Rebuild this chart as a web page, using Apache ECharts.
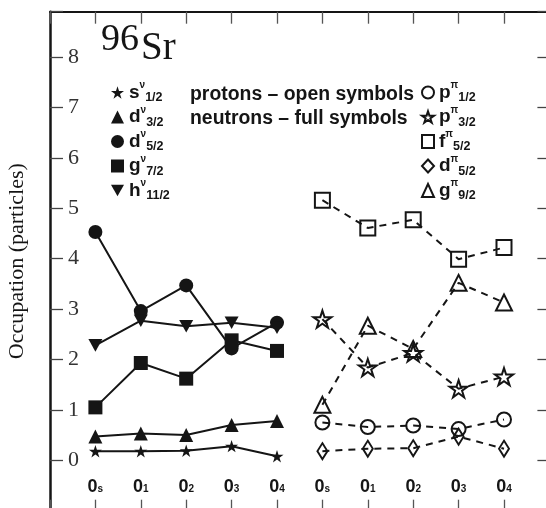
<!DOCTYPE html>
<html>
<head>
<meta charset="utf-8">
<script src="https://cdn.jsdelivr.net/npm/echarts@6/dist/echarts.min.js"></script>
<style>
html,body{margin:0;padding:0;background:#fff;}
#chart{width:546px;height:508px;}
</style>
</head>
<body>
<div id="chart"></div>
<script>
// ---------- data ----------
const xTickSubs = ['s', '1', '2', '3', '4', 's', '1', '2', '3', '4'];
const yTickValues = [0, 1, 2, 3, 4, 5, 6, 7, 8];

// neutrons (full symbols, solid lines) at positions 0..4
const neutronS12  = [0.18, 0.18, 0.19, 0.28, 0.08];
const neutronD32  = [0.47, 0.53, 0.50, 0.70, 0.78];
const neutronD52  = [4.53, 2.96, 3.47, 2.22, 2.73];
const neutronG72  = [1.05, 1.93, 1.62, 2.38, 2.17];
const neutronH112 = [2.28, 2.77, 2.66, 2.73, 2.63];

// protons (open symbols, dashed lines) at positions 5..9
const protonP12 = [0.75, 0.66, 0.69, 0.62, 0.81];
const protonP32 = [2.80, 1.84, 2.13, 1.42, 1.66];
const protonF52 = [5.16, 4.61, 4.77, 3.99, 4.22];
const protonD52 = [0.18, 0.23, 0.24, 0.47, 0.23];
const protonG92 = [1.10, 2.67, 2.21, 3.52, 3.13];

const neutronLabels = [['s', '1/2'], ['d', '3/2'], ['d', '5/2'], ['g', '7/2'], ['h', '11/2']];
const protonLabels  = [['p', '1/2'], ['p', '3/2'], ['f', '5/2'], ['d', '5/2'], ['g', '9/2']];

// ---------- styles ----------
const STAR = 'path://M50,0 L61.2,34.5 L97.6,34.5 L68.2,55.9 L79.4,90.5 L50,69.1 L20.6,90.5 L31.8,55.9 L2.4,34.5 L38.8,34.5 Z';
const DOWN_TRI = 'path://M0,0 L100,0 L50,90 Z';
const INK = '#151515';
const SANS = '"Liberation Sans", Arial, sans-serif';
const SERIF = '"Liberation Serif", "Times New Roman", serif';

const neutronData = [neutronS12, neutronD32, neutronD52, neutronG72, neutronH112];
const neutronSym = [STAR, 'triangle', 'circle', 'rect', DOWN_TRI];
const neutronSize = [13, 14, 14, 14, 14];

const protonData = [protonP12, protonP32, protonF52, protonD52, protonG92];
const protonSym = ['circle', STAR, 'rect', 'diamond', 'triangle'];
const protonSize = [14, 18, 15, [10, 16], 16];

const labelMap = {};
const series = [];
const legendN = [], legendP = [];

neutronData.forEach((vals, k) => {
  const name = neutronLabels[k][0] + 'ν' + neutronLabels[k][1];
  labelMap[name] = { l: neutronLabels[k][0], g: 'ν', s: neutronLabels[k][1] };
  series.push({
    name, type: 'line',
    data: vals.map((v, i) => [i, v]),
    symbol: neutronSym[k], symbolSize: neutronSize[k],
    symbolKeepAspect: true,
    lineStyle: { color: INK, width: 2 },
    itemStyle: { color: INK, borderWidth: 0 },
    emphasis: { disabled: true }, silent: true
  });
  legendN.push({ name, icon: neutronSym[k],
    itemStyle: { color: INK, borderWidth: 0 } });
});

protonData.forEach((vals, k) => {
  const name = protonLabels[k][0] + 'π' + protonLabels[k][1];
  labelMap[name] = { l: protonLabels[k][0], g: 'π', s: protonLabels[k][1] };
  series.push({
    name, type: 'line',
    data: vals.map((v, i) => [i + 5, v]),
    symbol: protonSym[k], symbolSize: protonSize[k],
    symbolKeepAspect: true,
    lineStyle: { color: INK, width: 2, type: [7, 6] },
    itemStyle: { color: 'rgba(255,255,255,0)', borderColor: INK, borderWidth: 2 },
    emphasis: { disabled: true }, silent: true
  });
  legendP.push({ name, icon: protonSym[k],
    itemStyle: { color: 'rgba(255,255,255,0)', borderColor: INK, borderWidth: 2 } });
});

const legendRich = {
  b:   { fontFamily: SANS, fontWeight: 'bold', fontSize: 19, lineHeight: 24, color: INK, verticalAlign: 'middle' },
  sup: { fontFamily: SANS, fontWeight: 'bold', fontSize: 10, lineHeight: 10, color: INK, verticalAlign: 'top' },
  sub: { fontFamily: SANS, fontWeight: 'bold', fontSize: 12.5, lineHeight: 10, color: INK, verticalAlign: 'bottom' }
};
const legendFmt = (name) => {
  const m = labelMap[name];
  return '{b|' + m.l + '}{sup|' + m.g + '}{sub|' + m.s + '}';
};

const commonLegend = {
  orient: 'vertical', padding: 0, itemGap: 0.5, itemWidth: 13, itemHeight: 13,
  selectedMode: false, formatter: legendFmt,
  textStyle: { rich: legendRich }
};

const option = {
  animation: false,
  backgroundColor: '#fff',
  grid: { left: 50, top: 11.7, width: 499.4, height: 499, containLabel: false, outerBoundsMode: 'none' },
  legend: [
    Object.assign({}, commonLegend, { left: 111, top: 80.5, data: legendN }),
    Object.assign({}, commonLegend, { left: 421, top: 80.5, itemWidth: 12, data: legendP })
  ],
  xAxis: [
    {
      type: 'value', min: -1, max: 10, interval: 1, position: 'bottom',
      axisLine: { show: true, onZero: false, lineStyle: { color: INK, width: 2 } },
      axisTick: { show: true, inside: true, length: 11, lineStyle: { color: '#555', width: 1.3 } },
      splitLine: { show: false },
      axisLabel: {
        inside: true, margin: 14, showMinLabel: true, showMaxLabel: true,
        formatter: (v) => (v >= 0 && v <= 9) ? '{a|0}{b|' + xTickSubs[v] + '}' : '',
        rich: {
          a: { fontFamily: SANS, fontWeight: 'bold', fontSize: 18, lineHeight: 20, color: INK, verticalAlign: 'middle' },
          b: { fontFamily: SANS, fontWeight: 'bold', fontSize: 10, lineHeight: 10, color: INK, verticalAlign: 'bottom', padding: [0, 0, 2, 0] }
        }
      }
    },
    {
      type: 'value', min: -1, max: 10, interval: 1, position: 'top',
      axisLine: { show: true, onZero: false, lineStyle: { color: INK, width: 2 } },
      axisTick: { show: true, inside: true, length: 12, lineStyle: { color: '#555', width: 1.3 } },
      splitLine: { show: false }, axisLabel: { show: false }
    }
  ],
  yAxis: [
    {
      type: 'value', min: -1, max: 8.9, interval: 1, position: 'left',
      name: 'Occupation (particles)', nameLocation: 'middle', nameGap: 22, nameRotate: 90,
      nameTextStyle: { fontFamily: SERIF, fontSize: 22, color: INK },
      axisLine: { show: true, onZero: false, lineStyle: { color: INK, width: 2.5 } },
      axisTick: { show: true, inside: true, length: 13, lineStyle: { color: '#444', width: 1.3 } },
      splitLine: { show: false },
      axisLabel: {
        inside: true, margin: 18, showMinLabel: true, showMaxLabel: true,
        fontFamily: SERIF, fontSize: 22, color: '#333',
        formatter: (v) => yTickValues.indexOf(v) >= 0 ? String(v) : ''
      }
    },
    {
      type: 'value', min: -1, max: 8.9, interval: 1, position: 'right',
      axisLine: { show: true, onZero: false, lineStyle: { color: INK, width: 2 } },
      axisTick: { show: true, inside: true, length: 12, lineStyle: { color: '#444', width: 1.3 } },
      splitLine: { show: false }, axisLabel: { show: false }
    }
  ],
  graphic: [
    { type: 'text', left: 101, top: 21, silent: true,
      style: { text: '96', font: '38px ' + SERIF, fill: INK } },
    { type: 'text', left: 141, top: 29, silent: true,
      style: { text: 'Sr', font: '39px ' + SERIF, fill: INK } },
    { type: 'text', left: 190, top: 85, silent: true,
      style: { text: 'protons – open symbols', font: 'bold 19.4px ' + SANS, fill: INK } },
    { type: 'text', left: 190, top: 109.5, silent: true,
      style: { text: 'neutrons – full symbols', font: 'bold 19.4px ' + SANS, fill: INK } }
  ],
  series
};

const chart = echarts.init(document.getElementById('chart'), null, { renderer: 'canvas' });
chart.setOption(option);
</script>
</body>
</html>
